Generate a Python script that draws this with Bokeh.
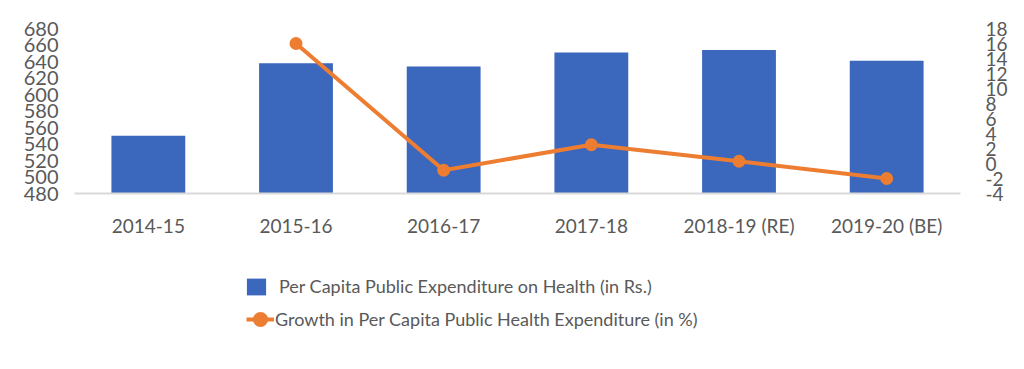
from bokeh.plotting import figure
from bokeh.layouts import column
from bokeh.models import (FactorRange, Range1d, LinearAxis, SingleIntervalTicker,
                          Legend, LegendItem, ColumnDataSource, PrintfTickFormatter)
from bokeh.embed import file_html
from bokeh.resources import INLINE

# ---- data ----
years = ["2014-15", "2015-16", "2016-17", "2017-18", "2018-19 (RE)", "2019-20 (BE)"]
per_capita = [550, 638, 634, 651, 654, 641]
growth_years = ["2015-16", "2016-17", "2017-18", "2018-19 (RE)", "2019-20 (BE)"]
growth = [16.0, -0.9, 2.5, 0.3, -2.0]
bar_label = "Per Capita Public Expenditure on Health (in Rs.)"
line_label = "Growth in Per Capita Public Health Expenditure (in %)"

FONT = "Lato"
TXT = "#595959"
BLUE = "#3B67BD"
ORANGE = "#ED7D31"

p = figure(width=1016, height=245, x_range=FactorRange(*years),
           y_range=Range1d(480, 680), output_backend="svg", toolbar_location=None,
           min_border_left=74, min_border_right=56, min_border_top=28, min_border_bottom=52)
p.extra_y_ranges = {"right": Range1d(-4, 18)}
p.outline_line_color = None
p.xgrid.grid_line_color = None
p.ygrid.grid_line_color = None

bar_src = ColumnDataSource(dict(x=years, y=per_capita))
bars = p.vbar(x="x", top="y", bottom=480, width=0.5, source=bar_src,
              fill_color=BLUE, line_color=None)

line_src = ColumnDataSource(dict(x=growth_years, y=growth))
ln = p.line(x="x", y="y", source=line_src, y_range_name="right",
            line_color=ORANGE, line_width=4)
pts = p.scatter(x="x", y="y", source=line_src, y_range_name="right", size=9,
                fill_color=ORANGE, line_color=ORANGE, line_width=4)

# left axis
ya = p.yaxis[0]
ya.ticker = SingleIntervalTicker(interval=20, num_minor_ticks=0)
ya.axis_line_color = None
ya.major_tick_line_color = None
ya.minor_tick_line_color = None
ya.major_label_standoff = 10
ya.major_label_text_font = FONT
ya.major_label_text_font_size = "20px"
ya.major_label_text_color = TXT

# right axis
ra = LinearAxis(y_range_name="right", ticker=SingleIntervalTicker(interval=2, num_minor_ticks=0),
                formatter=PrintfTickFormatter(format="%d"))
ra.axis_line_color = None
ra.major_tick_line_color = None
ra.minor_tick_line_color = None
ra.major_label_standoff = 19
ra.major_label_text_font = FONT
ra.major_label_text_font_size = "19px"
ra.major_label_text_color = TXT
p.add_layout(ra, "right")

# x axis
xa = p.xaxis[0]
xa.axis_line_color = "#D9D9D9"
xa.axis_line_width = 2
xa.major_tick_line_color = None
xa.minor_tick_line_color = None
xa.major_label_standoff = 14
xa.major_label_text_font = FONT
xa.major_label_text_font_size = "19px"
xa.major_label_text_color = TXT

# ---- legend strip below the chart (its data lies outside the visible range) ----
lg = figure(width=1016, height=108, x_range=FactorRange(*years), y_range=Range1d(1000, 1001),
            x_axis_type=None, y_axis_type=None, output_backend="svg", toolbar_location=None,
            min_border_left=74, min_border_right=56, min_border_top=0, min_border_bottom=0)
lg.outline_line_color = None
lg.xgrid.grid_line_color = None
lg.ygrid.grid_line_color = None
lb = lg.vbar(x="x", top="y", bottom=480, width=0.5, source=bar_src,
             fill_color=BLUE, line_color=None)
ll = lg.line(x="x", y="y", source=line_src, line_color=ORANGE, line_width=4)
lp = lg.scatter(x="x", y="y", source=line_src, size=9, fill_color=ORANGE,
                line_color=ORANGE, line_width=4)

common = dict(padding=0, margin=0, border_line_color=None, background_fill_alpha=0,
              label_text_font=FONT, label_text_font_size="18px", label_text_color=TXT,
              spacing=0)
leg1 = Legend(items=[LegendItem(label=bar_label, renderers=[lb])],
              location=(170, 56), glyph_width=24, glyph_height=21, label_height=21,
              label_standoff=11, **common)
leg2 = Legend(items=[LegendItem(label=line_label, renderers=[ll, lp])],
              location=(172, 20), glyph_width=28, glyph_height=28, label_height=28,
              label_standoff=1, **common)
lg.add_layout(leg1, "center")
lg.add_layout(leg2, "center")

open("out.html", "w").write(file_html(column(p, lg, spacing=0), INLINE))
